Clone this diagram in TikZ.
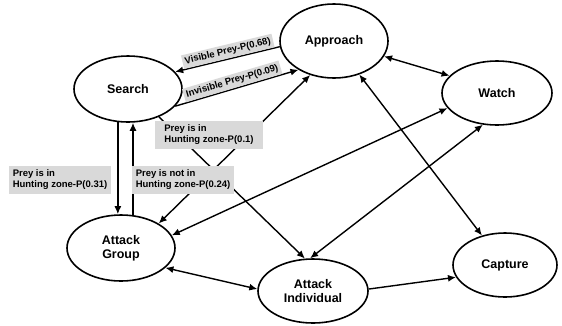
\documentclass[tikz,border=0pt]{standalone}
\usepackage{fontspec}
\setmainfont{Liberation Sans}
\usetikzlibrary{arrows.meta,shapes.geometric}

\tikzset{
  state/.style={draw, ellipse, line width=1.6pt, inner sep=0pt, align=center,
    font=\fontsize{12.5}{14}\selectfont\bfseries},
  lbl/.style={fill=gray!30, align=left, inner sep=4pt,
    font=\fontsize{9.5}{11}\selectfont\bfseries},
  trans/.style={line width=1.4pt},
}

\begin{document}
\begin{tikzpicture}[x=1pt, y=-1pt, >={Latex[length=8pt,width=7pt]}]
\useasboundingbox (0,0) rectangle (562,325);

\node[state, minimum width=108pt, minimum height=66pt] (search) at (128,89) {Search};
\node[state, minimum width=108pt, minimum height=74pt] (approach) at (334,41) {Approach};
\node[state, minimum width=110pt, minimum height=64pt] (watch) at (497,93) {Watch};
\node[state, minimum width=108pt, minimum height=66pt] (attgroup) at (121,248) {Attack\\Group};
\node[state, minimum width=110pt, minimum height=64pt] (attind) at (313,291) {Attack\\Individual};
\node[state, minimum width=104pt, minimum height=64pt] (capture) at (505,265) {Capture};

\draw[trans, <-] (search.20) -- node[lbl, sloped, above, inner sep=2.5pt, pos=0.52] (visible) {Visible Prey-P(0.68)} (approach.186);
\draw[trans, ->] (search.340) -- node[lbl, sloped, above, inner sep=2.5pt, pos=0.48] (invisible) {Invisible Prey-P(0.09)} (approach.219);
\draw[trans, <->] (approach.343) -- (watch.160);

\draw[trans, ->] (search.253) -- (search.253 |- attgroup.north);
\draw[trans, ->] (attgroup.70) -- (attgroup.70 |- search.south);
\draw[trans, ->] (search.318) -- (attind.104);
\draw[trans, <->] (attgroup.33) -- (approach.235);
\draw[trans, <->] (watch.197) -- (attgroup.14);
\draw[trans, <->] (watch.246) -- (attind.95);
\draw[trans, <->] (approach.307) -- (capture.128);
\draw[trans, <->] (attgroup.336) -- (attind.178);
\draw[trans, ->] (attind.2) -- (capture.194);

\node[lbl] (zone31) at (60,180) {Prey is in\\Hunting zone-P(0.31)};
\node[lbl] (zone24) at (183,180) {Prey is not in\\Hunting zone-P(0.24)};
\node[lbl, minimum width=108pt] (zone01) at (209,135) {Prey is in\\Hunting zone-P(0.1)};

\end{tikzpicture}
\end{document}
